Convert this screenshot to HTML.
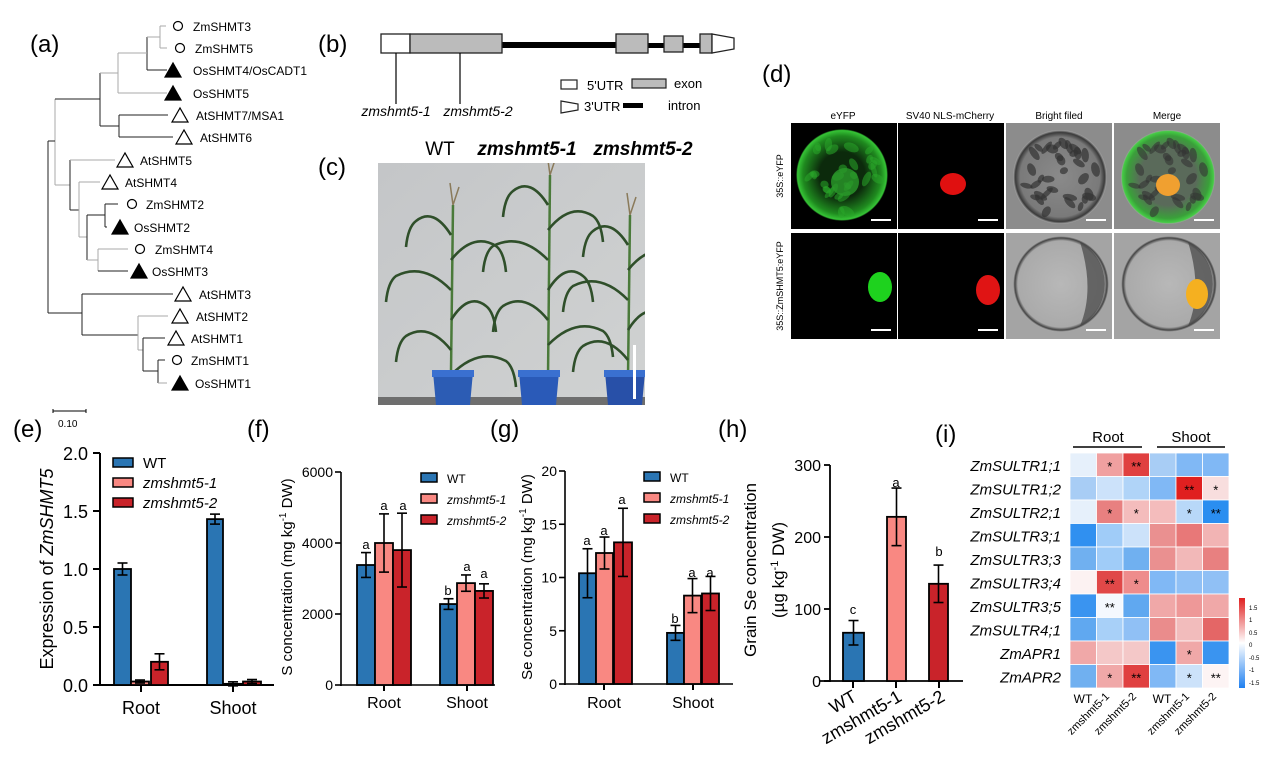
<!DOCTYPE html>
<html><head><meta charset="utf-8"><style>
html,body{margin:0;padding:0;background:#fff}
svg{display:block;font-family:"Liberation Sans",Arial,sans-serif}
</style></head><body>
<svg id="s" xmlns="http://www.w3.org/2000/svg" width="1268" height="764" viewBox="0 0 1268 764">
<defs>
<clipPath id="pc"><rect x="378" y="163" width="267" height="242"/></clipPath>
<radialGradient id="gc" cx="0.5" cy="0.5" r="0.5"><stop offset="0.5" stop-color="#0c2a0c"/><stop offset="0.85" stop-color="#1f8a1f"/><stop offset="0.97" stop-color="#36c436"/><stop offset="1" stop-color="#000"/></radialGradient>
<radialGradient id="bf" cx="0.5" cy="0.5" r="0.5"><stop offset="0" stop-color="#8a8a8a"/><stop offset="0.85" stop-color="#7a7a7a"/><stop offset="0.95" stop-color="#3a3a3a"/><stop offset="1" stop-color="#a8a8a8"/></radialGradient>
<radialGradient id="bf2" cx="0.5" cy="0.5" r="0.5"><stop offset="0" stop-color="#b8b8b8"/><stop offset="0.9" stop-color="#aaaaaa"/><stop offset="0.96" stop-color="#444"/><stop offset="1" stop-color="#b0b0b0"/></radialGradient>
<radialGradient id="mg" cx="0.5" cy="0.5" r="0.5"><stop offset="0.6" stop-color="#5a6a5a"/><stop offset="0.88" stop-color="#3aa03a"/><stop offset="0.97" stop-color="#44cc44"/><stop offset="1" stop-color="#a0a0a0"/></radialGradient>
<linearGradient id="wall" x1="0" y1="0" x2="1" y2="1"><stop offset="0" stop-color="#c4c6c8"/><stop offset="1" stop-color="#d0d2d2"/></linearGradient>
</defs>
<g id="g"></g>
</svg>
<script>
var s=document.getElementById('g'),o='';
var seed=7;function rnd(){seed=(seed*9301+49297)%233280;return seed/233280;}
function R(x,y,w,h,f,st,sw){o+='<rect x="'+x+'" y="'+y+'" width="'+w+'" height="'+h+'" fill="'+f+'"'+(st?' stroke="'+st+'" stroke-width="'+(sw||1)+'"':'')+'/>';}
function L(x1,y1,x2,y2,c,w){o+='<line x1="'+x1+'" y1="'+y1+'" x2="'+x2+'" y2="'+y2+'" stroke="'+(c||'#000')+'" stroke-width="'+(w||1)+'"/>';}
function T(x,y,t,sz,a,extra){o+='<text x="'+x+'" y="'+y+'" font-size="'+sz+'"'+(a?' text-anchor="'+a+'"':'')+(extra||'')+'>'+t+'</text>';}
var B='#2a75b3',P='#f98882',D='#c9232a';
T(30,52,'(a)',24);
var gr='#aaa',bk='#222';
function tri(x,y,fill){o+='<polygon points="'+(x-8)+','+(y+7)+' '+x+','+(y-7)+' '+(x+8)+','+(y+7)+'" fill="'+(fill?'#000':'#fff')+'" stroke="#000" stroke-width="1.2"/>';}
function cir(x,y){o+='<circle cx="'+x+'" cy="'+y+'" r="4.5" fill="#fff" stroke="#000" stroke-width="1.2"/>';}
L(160,26,160,48,gr);L(160,26,166,26,gr);L(160,48,167,48,gr);
L(147,37,147,70,bk);L(147,37,160,37,gr);L(147,70,167,70,bk);
L(118,53,118,93,gr);L(118,53,147,53,gr);L(118,93,167,93,gr);
L(119,115,119,137,bk);L(119,115,168,115,bk);L(119,137,173,137,bk);
L(100,73,100,126,bk);L(100,73,118,73,gr);L(100,126,119,126,bk);
L(55,99,55,185,gr);L(55,99,100,99,bk);L(55,185,70,185,gr);
L(70,160,70,210,bk);L(70,160,115,160,gr);L(70,210,79,210,bk);
L(79,182,79,237,gr);L(79,182,100,182,gr);L(79,237,87,237,gr);
L(87,215,87,260,bk);L(87,215,105,215,bk);L(87,260,98,260,gr);
L(105,204,105,227,bk);L(105,204,118,204,bk);L(105,227,107,227,bk);
L(98,249,98,271,gr);L(98,249,128,249,gr);L(98,271,128,271,bk);
L(48,141,48,313,bk);L(48,141,55,141,bk);L(48,313,82,313,bk);
L(82,294,82,335,bk);L(82,294,173,294,bk);L(82,335,138,335,bk);
L(138,316,138,350,gr);L(138,316,168,316,gr);L(138,350,143,350,gr);
L(143,338,143,371,bk);L(143,338,165,338,bk);L(143,371,158,371,bk);
L(158,360,158,383,bk);L(158,360,165,360,bk);L(158,383,167,383,gr);
var leaves=[[26,'c',178,193,'ZmSHMT3'],[48,'c',180,195,'ZmSHMT5'],[70,'f',173,193,'OsSHMT4/OsCADT1'],[93,'f',173,193,'OsSHMT5'],[115,'o',180,196,'AtSHMT7/MSA1'],[137,'o',184,200,'AtSHMT6'],[160,'o',125,140,'AtSHMT5'],[182,'o',110,125,'AtSHMT4'],[204,'c',132,146,'ZmSHMT2'],[227,'f',120,134,'OsSHMT2'],[249,'c',140,155,'ZmSHMT4'],[271,'f',139,152,'OsSHMT3'],[294,'o',183,199,'AtSHMT3'],[316,'o',180,196,'AtSHMT2'],[338,'o',176,191,'AtSHMT1'],[360,'c',177,191,'ZmSHMT1'],[383,'f',180,195,'OsSHMT1']];
leaves.forEach(function(l){if(l[1]=='c')cir(l[2],l[0]);else tri(l[2],l[0],l[1]=='f');T(l[3],l[0]+5,l[4],12);});
L(53,411,86,411,'#000',1);L(53,409,53,413);L(86,409,86,413);T(58,427,'0.10',10);
T(318,52,'(b)',24);
R(500,42,117,6,'#000');R(648,43,16,5,'#000');R(683,43,17,5,'#000');
R(381,34,29,19,'#fff','#222',1.3);R(410,34,92,19,'#bbb','#222',1.3);
R(616,34,32,19,'#bbb','#222',1.3);R(664,36,19,16,'#bbb','#222',1.3);R(700,34,12,19,'#bbb','#222',1.3);
o+='<polygon points="712,34 734,38 734,49 712,53" fill="#fff" stroke="#222" stroke-width="1.3"/>';
L(396,53,396,104,'#000',1.2);L(460,53,460,104,'#000',1.2);
T(396,116,'zmshmt5-1',14,'middle',' font-style="italic"');T(478,116,'zmshmt5-2',14,'middle',' font-style="italic"');
R(561,80,16,9,'#fff','#222',1.2);T(587,90,'5\'UTR',13);R(632,79,34,9,'#bbb','#222',1.2);T(674,88,'exon',13);
o+='<polygon points="561,101 578,104 578,110 561,113" fill="#fff" stroke="#222" stroke-width="1.2"/>';T(584,111,'3\'UTR',13);
R(623,103,20,5,'#000');T(668,110,'intron',13);
T(318,175,'(c)',24);
T(440,155,'WT',19,'middle');T(527,155,'zmshmt5-1',19,'middle',' font-style="italic" font-weight="bold"');T(643,155,'zmshmt5-2',19,'middle',' font-style="italic" font-weight="bold"');
o+='<g clip-path="url(#pc)">';
R(378,163,267,242,'url(#wall)');R(378,397,267,8,'#6e6e6e');
function plant(cx,top,base){var g='#2f4f2a';
L(cx,base,cx+2,top,'#4a7a3a',2.5);
var ly=[top+30,top+55,top+85,top+115,top+145,top+170];
ly.forEach(function(y,i){var d=(i%2?1:-1),len=35+(i%3)*10;o+='<path d="M'+cx+','+y+' q'+(d*len*0.5)+',-28 '+(d*len)+',-14 q'+(d*8)+',6 '+(d*10)+',26" fill="none" stroke="'+g+'" stroke-width="2.6"/>';});
o+='<path d="M'+(cx+2)+','+top+' l-3,-22 M'+(cx+2)+','+top+' l6,-18" stroke="#8a7a5a" stroke-width="1.5" fill="none"/>';}
plant(451,205,372);plant(548,175,378);plant(628,215,378);
[[453,'#2c5cb4'],[539,'#2a5ab8'],[625,'#2850a8']].forEach(function(p){o+='<path d="M'+(p[0]-20)+',372 L'+(p[0]+20)+',372 L'+(p[0]+17)+',405 L'+(p[0]-17)+',405Z" fill="'+p[1]+'"/>';R(p[0]-21,370,42,7,'#3a70d0');});
R(633,345,3,54,'#fff');
o+='</g>';
T(762,82,'(d)',24);
T(843,119,'eYFP',10,'middle');T(950,119,'SV40 NLS-mCherry',10,'middle');T(1059,119,'Bright filed',10,'middle');T(1167,119,'Merge',10,'middle');
T(0,0,'35S::eYFP',9,'middle',' transform="translate(783,176) rotate(-90)"');T(0,0,'35S::ZmSHMT5:eYFP',9,'middle',' transform="translate(783,286) rotate(-90)"');
var cols=[791,898,1006,1114],cw=106,rows=[123,233],rh=106;
function blobs(cx,cy,r,n,col,op){for(var i=0;i<n;i++){var a=rnd()*6.28,d=Math.sqrt(rnd())*r,x=(cx+Math.cos(a)*d).toFixed(1),y=(cy+Math.sin(a)*d).toFixed(1);o+='<ellipse cx="'+x+'" cy="'+y+'" rx="'+(4+rnd()*4).toFixed(1)+'" ry="'+(2.5+rnd()*2).toFixed(1)+'" transform="rotate('+(rnd()*180).toFixed(0)+' '+x+' '+y+')" fill="'+col+'" opacity="'+op+'"/>';}}
R(cols[0],123,cw,rh,'#000');o+='<circle cx="842" cy="175" r="46" fill="url(#gc)"/>';seed=3;blobs(842,175,38,30,'#2aa82a',0.55);o+='<circle cx="845" cy="182" r="14" fill="#2a9a2a" opacity="0.8"/>';
R(cols[1],123,cw,rh,'#000');o+='<ellipse cx="953" cy="184" rx="13" ry="11" fill="#e01010"/>';
R(cols[2],123,cw,rh,'#8c8c8c');o+='<circle cx="1060" cy="177" r="47" fill="url(#bf)"/>';seed=11;blobs(1060,177,38,34,'#333',0.7);
R(cols[3],123,cw,rh,'#8c8c8c');o+='<circle cx="1168" cy="177" r="47" fill="url(#mg)"/>';seed=11;blobs(1168,177,38,34,'#333',0.6);o+='<ellipse cx="1168" cy="185" rx="12" ry="11" fill="#f0a030"/>';
R(cols[0],233,cw,rh,'#000');o+='<ellipse cx="880" cy="287" rx="12" ry="15" fill="#1ed21e"/>';
R(cols[1],233,cw,rh,'#000');o+='<ellipse cx="988" cy="290" rx="12" ry="15" fill="#e01414"/>';
R(cols[2],233,cw,rh,'#a4a4a4');o+='<circle cx="1061" cy="284" r="48" fill="url(#bf2)"/>';o+='<path d="M1080,242 A48,48 0 0 1 1080,326 Q1095,290 1080,242Z" fill="#444" opacity="0.7"/>';
R(cols[3],233,cw,rh,'#a4a4a4');o+='<circle cx="1169" cy="284" r="48" fill="url(#bf2)"/>';o+='<path d="M1188,242 A48,48 0 0 1 1188,326 Q1203,290 1188,242Z" fill="#444" opacity="0.7"/>';o+='<ellipse cx="1197" cy="294" rx="11" ry="15" fill="#f5b020"/>';
for(var r=0;r<2;r++)for(var c=0;c<4;c++){R(cols[c]+80,rows[r]+96,20,2,'#fff');}
function bar(x0,x1,y0,yv,ye,col){R(x0,yv,x1-x0,y0-yv,col,'#000',1.8);if(ye!=null){var m=(x0+x1)/2;L(m,yv-ye,m,yv+ye,'#000',1.6);L(m-5,yv-ye,m+5,yv-ye,'#000',1.6);L(m-5,yv+ye,m+5,yv+ye,'#000',1.6);}}
function legend(x,y,sz,gap,fs){[[B,'WT',''],[P,'zmshmt5-1',' font-style="italic"'],[D,'zmshmt5-2',' font-style="italic"']].forEach(function(l,i){R(x,y+i*gap-5,sz,9,l[0],'#000',1.5);T(x+sz+10,y+i*gap+5,l[1],fs,null,l[2]);});}
T(13,437,'(e)',24);
var e0=685,es=116;function ey(v){return e0-v*es;}
L(100,453,100,686,'#000',2);L(99,685,274,685,'#000',2);
[0,0.5,1,1.5,2].forEach(function(v){L(93,ey(v),100,ey(v),'#000',2);T(88,ey(v)+7,v.toFixed(1),18,'end');});
L(141,685,141,692,'#000',2);L(233,685,233,692,'#000',2);
bar(114,131,e0,ey(1.0),6,B);bar(131,149,e0,ey(0.03),1.5,P);bar(151,168,e0,ey(0.2),8,D);
bar(207,223,e0,ey(1.43),5,B);bar(224,242,e0,ey(0.01),2,P);bar(243,261,e0,ey(0.03),2,D);
T(141,714,'Root',18,'middle');T(233,714,'Shoot',18,'middle');
T(0,0,'Expression of <tspan font-style="italic">ZmSHMT5</tspan>',18,'middle',' transform="translate(53,569) rotate(-90)"');
legend(113,463,20,20,15);
T(247,437,'(f)',24);
var f0=685,fs=213/6000;function fy(v){return f0-v*fs;}
L(341,472,341,686,'#000',1.6);L(340,685,495,685,'#000',1.6);
[0,2000,4000,6000].forEach(function(v){L(335,fy(v),341,fy(v),'#000',1.6);T(333,fy(v)+5,v,14,'end');});
L(384,685,384,691,'#000',2);L(467,685,467,691,'#000',2);
bar(357,375,f0,fy(3380),fs*350,B);bar(375,393,f0,fy(4000),fs*820,P);bar(393,411,f0,fy(3800),fs*1040,D);
bar(440,457,f0,fy(2280),fs*150,B);bar(457,475,f0,fy(2870),fs*230,P);bar(475,493,f0,fy(2650),fs*200,D);
T(366,549,'a',13,'middle');T(384,510,'a',13,'middle');T(403,510,'a',13,'middle');
T(448,595,'b',13,'middle');T(467,571,'a',13,'middle');T(484,578,'a',13,'middle');
T(384,708,'Root',16,'middle');T(467,708,'Shoot',16,'middle');
T(0,0,'S concentration (mg kg<tspan dy="-6" font-size="10">-1</tspan><tspan dy="6"> DW)</tspan>',15,'middle',' transform="translate(292,577) rotate(-90)"');
legend(421,478,16,21,12);
T(490,437,'(g)',24);
var g0=684,gs=213/20;function gy(v){return g0-v*gs;}
L(565,471,565,685,'#000',1.6);L(564,684,733,684,'#000',1.6);
[0,5,10,15,20].forEach(function(v){L(559,gy(v),565,gy(v),'#000',1.6);T(557,gy(v)+5,v,14,'end');});
L(604,684,604,690,'#000',2);L(693,684,693,690,'#000',2);
bar(579,596,g0,gy(10.4),gs*2.3,B);bar(596,613,g0,gy(12.3),gs*1.5,P);bar(614,632,g0,gy(13.3),gs*3.2,D);
bar(667,684,g0,gy(4.8),gs*0.7,B);bar(684,701,g0,gy(8.3),gs*1.6,P);bar(702,719,g0,gy(8.5),gs*1.6,D);
T(587,545,'a',13,'middle');T(604,535,'a',13,'middle');T(622,504,'a',13,'middle');
T(675,623,'b',13,'middle');T(692,577,'a',13,'middle');T(710,577,'a',13,'middle');
T(604,708,'Root',16,'middle');T(693,708,'Shoot',16,'middle');
T(0,0,'Se concentration (mg kg<tspan dy="-6" font-size="10">-1</tspan><tspan dy="6"> DW)</tspan>',15,'middle',' transform="translate(532,577) rotate(-90)"');
legend(644,477,16,21,12);
T(718,437,'(h)',24);
var h0=681,hs=216/300;function hy(v){return h0-v*hs;}
L(830,465,830,682,'#000',1.8);L(820,681,963,681,'#000',1.8);
[0,100,200,300].forEach(function(v){L(824,hy(v),830,hy(v),'#000',1.8);T(821,hy(v)+6,v,16,'end');});
[853,896,939].forEach(function(x){L(x,681,x,688,'#000',2);});
bar(843,864,h0,hy(67),hs*17,B);bar(887,906,h0,hy(228),hs*40,P);bar(929,948,h0,hy(135),hs*26,D);
T(853,614,'c',13,'middle');T(896,487,'a',13,'middle');T(939,556,'b',13,'middle');
T(0,0,'WT',18,'end',' transform="translate(858,700) rotate(-30)"');
T(0,0,'zmshmt5-1',18,'end',' transform="translate(903,700) rotate(-30)"');
T(0,0,'zmshmt5-2',18,'end',' transform="translate(946,700) rotate(-30)"');
T(0,0,'Grain Se concentration',17,'middle',' transform="translate(756,570) rotate(-90)"');
T(0,0,'(µg kg<tspan dy="-6" font-size="11">-1</tspan><tspan dy="6"> DW)</tspan>',17,'middle',' transform="translate(784,570) rotate(-90)"');
T(935,442,'(i)',24);
T(1108,442,'Root',15,'middle');L(1073,447,1142,447,'#000',1.5);T(1191,442,'Shoot',15,'middle');L(1157,447,1225,447,'#000',1.5);
var names=['ZmSULTR1;1','ZmSULTR1;2','ZmSULTR2;1','ZmSULTR3;1','ZmSULTR3;3','ZmSULTR3;4','ZmSULTR3;5','ZmSULTR4;1','ZmAPR1','ZmAPR2'];
var hm=[
['#e6f0fb','#f0a0a0','#e04040','#a8cdf5','#80b8f5','#80b8f5'],
['#a8cdf5','#cce2fa','#b0d4f8','#80b8f5','#e02020','#f8dede'],
['#e6f0fb','#e88080','#f4bcbc','#f4bcbc','#b8d8f8','#2a8ef0'],
['#3090f0','#a0ccf8','#cce2fa','#ea9090','#e87878','#f2b4b4'],
['#70b0f0','#a0ccf8','#70b0f0','#ea9090','#f2b8b8','#e88080'],
['#fcf2f2','#e04848','#ee8c8c','#80b8f5','#90c0f5','#90c0f5'],
['#3a94f0','#f4f8fe','#60a8f0','#f0a8a8','#ee9898','#f0a8a8'],
['#60a8f0','#a8d0f8','#90c0f5','#ea8c8c','#f2bcbc','#e46666'],
['#f0a8a8','#f4c8c8','#f4c8c8','#3a94f0','#f0a8a8','#3a94f0'],
['#70b0f0','#f0a8a8','#e04040','#80b8f5','#cce2fa','#fdf4f4']];
var st={'0,1':'*','0,2':'**','1,4':'**','1,5':'*','2,1':'*','2,2':'*','2,4':'*','2,5':'**','5,1':'**','5,2':'*','6,1':'**','8,4':'*','9,1':'*','9,2':'**','9,4':'*','9,5':'**'};
var hx=1070,hyy=453,cw2=26.5,rh2=23.5;
for(var i=0;i<10;i++){for(var j=0;j<6;j++){R(hx+j*cw2,hyy+i*rh2,cw2,rh2,hm[i][j],'#fff',0.8);var k=i+','+j;if(st[k])T(hx+j*cw2+cw2/2,hyy+i*rh2+rh2/2+6,st[k],13,'middle');}
T(1061,hyy+i*rh2+rh2/2+6,names[i],15,'end',' font-style="italic"');}
T(1083,703,'WT',12,'middle');T(1162,703,'WT',12,'middle');
[[1110,'zmshmt5-1'],[1137,'zmshmt5-2'],[1190,'zmshmt5-1'],[1217,'zmshmt5-2']].forEach(function(a){T(0,0,a[1],11,'end',' transform="translate('+a[0]+',697) rotate(-45)"');});
o+='<defs><linearGradient id="cb" x1="0" y1="0" x2="0" y2="1"><stop offset="0" stop-color="#e02020"/><stop offset="0.5" stop-color="#ffffff"/><stop offset="1" stop-color="#2080f0"/></linearGradient></defs>';
R(1239,598,6,90,'url(#cb)');
[['1.5',608],['1',620],['0.5',633],['0',645],['-0.5',658],['-1',670],['-1.5',683]].forEach(function(a){T(1249,a[1]+2,a[0],6);});
s.innerHTML=o;
</script>
</body></html>
